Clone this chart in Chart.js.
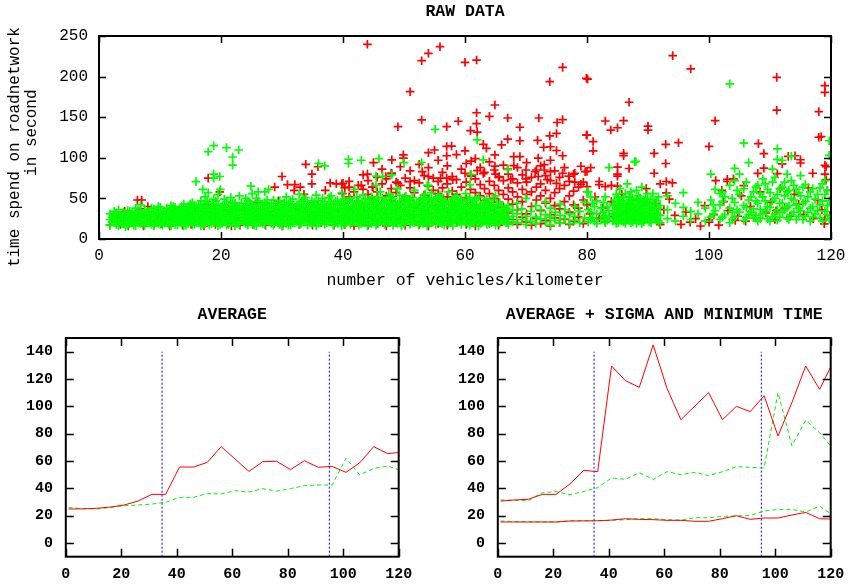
<!DOCTYPE html>
<html><head><meta charset="utf-8">
<script src="https://cdn.jsdelivr.net/npm/chart.js@4.4.0/dist/chart.umd.min.js"></script>
<style>
html,body{margin:0;padding:0;background:#fff;}
#wrap{position:relative;width:855px;height:585px;overflow:hidden;background:#fff;}
canvas{position:absolute;}
</style></head><body>
<div id="wrap">
<canvas id="cTop" width="855" height="295" style="left:0;top:0;width:855px;height:295px"></canvas>
<canvas id="cLeft" width="430" height="290" style="left:0;top:295px;width:430px;height:290px"></canvas>
<canvas id="cRight" width="425" height="290" style="left:430px;top:295px;width:425px;height:290px"></canvas>
</div>
<script>
// ---------- RAW DATA ----------
// green: [x, [y values at that x]]
const greenColumns = [
[1.8,[17,24,31]],[2.5,[20,28,34]],[3.2,[16,23,30,36]],[4,[19,26,33]],[4.7,[17,22,29,35]],[5.4,[20,27,32]],
[6,[16,24,30,38]],[6.8,[19,26,33,42]],[7.5,[17,22,29,36]],[8.2,[20,27,34]],[9,[16,23,30,37]],[9.7,[19,25,32,40]],
[10.4,[17,22,28,35]],[11.1,[20,26,31,38]],[11.8,[16,23,29,36,41]],[12.5,[18,25,33,39]],[13.2,[21,27,31,37]],
[13.9,[16,24,30,35,43]],[14.6,[19,26,33,40]],[15.3,[17,22,28,36,45]],[16,[20,27,32,39]],[16.7,[16,24,30,37,47]],
[17.4,[19,25,33,41,52]],[18.1,[17,22,29,35,44]],[18.8,[20,27,31,38,49]],[19.5,[16,24,30,36,43,55]],[20.2,[19,26,33,40]],
[20.9,[17,23,28,35,46]],[21.6,[20,25,32,39,51]],[22.3,[16,24,30,37,44]],[23,[18,27,34,41,53]],[23.7,[21,26,31,38]],
[24.4,[17,24,29,36,47]],[25.1,[19,27,33,42,56]],[25.8,[16,22,30,37,50]],[26.5,[20,26,32,40]],[27.2,[18,24,29,35,45,58]],
[27.9,[21,27,34,41]],[28.6,[17,23,30,38,48]],[29.3,[20,26,32,36,44]],[30,[16,24,29,35,42]],[30.7,[19,27,33,40,52]],
[31.4,[17,22,30,37,46]],[32.1,[20,26,32,39]],[32.8,[18,24,29,35,43,55]],[33.5,[21,27,34,41,49]],[34.2,[17,23,30,36,44]],
[34.9,[19,26,31,38,47]],[35.6,[16,24,29,35,42,54]],[36.3,[20,27,33,40]],[37,[18,23,30,37,46]],[37.7,[21,26,32,39,51]],
[38.4,[17,24,28,35,43]],[39.1,[19,27,33,41,48]],[39.8,[16,22,30,38,45,57]],[40.5,[20,26,32,36,44]],[41.2,[18,24,29,37,50]],
[41.9,[21,27,34,42,61]],[42.6,[17,23,31,39,47]],[43.3,[20,26,33,40,54]],[44,[16,25,30,36,45]],[44.7,[19,28,35,43,52]],
[45.4,[17,23,31,38,48,66]],[46.1,[21,26,33,41,58]],[46.8,[18,24,30,37,46]],[47.5,[20,28,35,44,55]],[48.2,[17,23,31,39,50]],
[48.9,[19,27,34,42,62]],[49.6,[16,25,30,38,47]],[50.3,[21,28,36,45,53]],[51,[18,24,32,40,49]],[51.7,[20,27,35,43,60]],
[52.4,[17,23,30,38,46]],[53.1,[19,26,34,41,51]],[53.8,[16,25,31,39,48,66]],[54.5,[21,28,36,44,57]],[55.2,[18,24,33,40,50]],
[55.9,[20,27,35,42,54]],[56.6,[17,23,30,38,47]],[57.3,[19,26,34,43,58]],[58,[16,25,32,39,49]],[58.7,[21,28,36,44,53]],
[59.4,[18,24,31,40,48]],[60.1,[20,27,35,43,56]],[60.8,[17,23,30,38,51,67]],[61.5,[19,26,33,41,47]],[62.2,[16,25,32,39,52]],
[62.9,[21,28,36,44]],[63.6,[18,24,31,40,49]],[64.3,[20,27,34,42]],[65,[17,23,30,38,53]],[65.7,[19,26,33,45]],
[66.4,[22,29,37]],[67.1,[18,25,34,41]],[67.8,[21,28,36]],[68.5,[20,31,44]],[69.3,[24,37]],[70,[18,28,50]],
[70.8,[22,34]],[71.6,[19,27,41]],[72.4,[25,36]],[73.2,[21,30,46]],[74,[17,27,38]],[74.8,[23,33]],[75.6,[20,29,43]],
[76.4,[25,36]],[77.2,[19,31]],[78,[23,28,40]],[78.8,[20,34]],[79.6,[26,45]],[80.2,[21,36,58]],[80.9,[26,44]],
[81.6,[19,31,47]],[82.3,[24,38]],[83,[20,29,52]],[83.6,[26,35,88]],[84.2,[22,31,43]],[84.8,[19,27,37,55]],
[85.4,[24,33,46,62]],[86,[21,29,40,51]],[86.6,[26,35,44,68]],[87.2,[20,31,38,48,58]],[87.8,[24,28,36,43,95]],
[88.4,[22,33,41,53]],[89,[19,27,37,46,64]],[89.6,[25,31,42,50]],[90.2,[21,34,45]],[90.8,[27,38,56]],[91.4,[23,32,47]],
[92,[20,29,41]],[93.2,[25,36,53]],[94.5,[22,44]],[95.8,[28,39,57]],[97,[24,34]],[98.2,[31,45]],[99.4,[22,38]],
[100.3,[27,48,80]],[101,[35,61]],[101.8,[24,42,56]],[102.6,[30,52]],[103.4,[20,38,66]],[104.2,[27,45,72,87]],
[105,[33,55,80]],[105.7,[23,41,62,118]],[106.5,[30,48,94]],[107.3,[26,37,58]],[108,[22,44,66]],[108.8,[31,52,74]],
[109.6,[25,40,61]],[110.4,[28,47,70,86]],[111.2,[23,36,55,98,111]],[112,[33,44,64,97]],[112.8,[26,39,58,80]],
[113.5,[30,50,72,102]],[114.3,[24,42,61]],[115,[35,53,78]],[115.8,[28,46,67]],[116.6,[22,38,58]],[117.4,[31,49]],
[118.2,[26,42,63]],[119,[34,55,72]],[119.7,[24,47,103,121]]
];
// extra green points filling the dense regions
const greenFillColumns = [
[2.15,[21,27]],[2.85,[18,25,32]],[3.6,[21,28]],[4.35,[15,24,30]],[5.05,[19,25,34]],[5.7,[17,23,29]],[6.4,[21,28,35]],
[7.15,[18,25,31]],[7.85,[20,26,33]],[8.6,[18,24,30,38]],[9.35,[21,28,34]],[10.05,[18,25,31,39]],[10.75,[20,26,33]],
[11.45,[18,24,30,34]],[12.15,[21,27,32,40]],[12.85,[17,23,29,35]],[13.55,[19,25,33,40]],[14.25,[17,22,28,37]],
[14.95,[21,25,31,38,43]],[15.65,[18,24,30,34,41]],[16.35,[22,26,35,42]],[17.05,[18,21,28,34,40]],[17.75,[22,27,31,38,46]],
[18.45,[19,25,33,40]],[19.15,[22,28,34,41,47]],[19.85,[18,21,27,32,38]],[20.55,[23,30,36,42,49]],[21.25,[18,22,28,34,41]],
[21.95,[21,27,33,36,45]],[22.65,[19,22,28,34,40]],[23.35,[23,30,36,44]],[24.05,[19,22,28,34,41,50]],[24.75,[22,25,31,38,44]],
[25.45,[17,24,29,35,40]],[26.15,[22,28,34,43,47]],[26.85,[19,22,28,37,42]],[27.55,[23,26,32,38,48]],[28.25,[19,25,28,35,44]],
[28.95,[22,28,34,41]],[29.65,[18,23,30,38,47]],[30.35,[21,27,32,38,45]],[31.05,[17,23,29,35,43]],[31.75,[20,25,33,41,49]],
[32.45,[22,29,35,42]],[33.15,[19,26,32,38,46]],[33.85,[23,27,33,39,51]],[34.55,[20,26,34,41]],[35.25,[22,28,33,40,45]],
[35.95,[19,26,31,38,47]],[36.65,[22,29,36,43,50]],[37.35,[20,27,33,41]],[38.05,[23,29,37,44,53]],[38.75,[20,26,30,37,46]],
[39.45,[23,29,36,44]],[40.15,[18,24,29,35,41,49]],[40.85,[22,28,34,40,47]],[41.55,[20,26,31,38,45]],[42.25,[23,29,36,44,52]],
[42.95,[19,25,30,37,43]],[43.65,[22,29,35,42,49]],[44.35,[19,27,33,39,48]],[45.05,[22,26,32,40,46]],[45.75,[19,28,35,43,51]],
[46.45,[23,29,36,44,50]],[47.15,[20,26,32,39,48]],[47.85,[23,30,37,42,52]],[48.55,[20,26,33,36,45]],[49.25,[22,29,36,44,54]],
[49.95,[19,23,33,41,50]],[50.65,[24,31,39,47]],[51.35,[21,27,34,42,51]],[52.05,[23,29,37,45]],[52.75,[20,27,33,41,49]],
[53.45,[22,29,37,44,55]],[54.15,[19,27,33,42,50]],[54.85,[23,31,39,47]],[55.55,[21,29,37,44,52]],[56.25,[19,25,33,41,49]],
[56.95,[22,28,36,45]],[57.65,[20,28,31,38,46]],[58.35,[23,29,36,42,51]],[59.05,[21,27,33,38,45]],[59.75,[23,30,37,46]],
[60.45,[19,25,33,40,48]],[61.15,[21,29,36,44]],[61.85,[23,28,35,43,50]],[62.55,[19,25,33,41]],[63.25,[22,26,33,38,46]],
[63.95,[20,28,37,45]],[64.65,[22,25,31,39,48]],[65.35,[20,28,35,42]],[66.05,[24,31,40]],[66.75,[20,27,38]],
[80.6,[24,33,52]],[81.2,[22,40]],[82.7,[27,33,45]],[83.3,[23,40]],
[84.5,[23,30,41,48]],[85.1,[20,28,36,44,52]],[85.7,[22,31,39,47]],[86.3,[19,25,33,42,56]],[86.9,[23,28,36,45,52]],
[87.5,[21,26,34,41,50]],[88.1,[19,25,30,39,47,60]],[88.7,[23,29,35,44,50]],[89.3,[21,26,33,40,48]],[89.9,[24,29,37,44,56]],
[90.5,[20,27,31,40,49]],[91.1,[25,35,43]],[91.7,[22,30,38,52]],
[100.7,[31,42]],[102.2,[27,46,58]],[103.8,[24,33,50]],[104.6,[36,60]],[106.1,[26,39,70]],[106.9,[33,52]],[107.7,[29,47,64]],
[108.4,[25,36,56]],[109.2,[34,47,68]],[110,[22,39,57]],[110.8,[31,50,76]],[111.6,[27,44,62]],[112.4,[36,53,70]],
[113.1,[24,41,60]],[113.9,[33,48,66]],[114.7,[28,38,57]],[115.4,[24,44,64]],[116.2,[33,52]],[117,[27,40,62]],
[117.8,[35,55]],[118.6,[22,47,68]],[119.4,[30,41,60]]
];
const greenOutliers = [[17.9,107.5],[18.8,114.9],[20.9,112.5],[22.9,109.6],[21.9,101],[21.9,91],[15.9,70.6],[18.8,80],
[19.8,77],[18.8,75],[17,61],[17.9,57],[19.9,61],[36,93],[37,90],[24.9,65],[26.1,58],[27.8,61],[55.1,135.1],[62,122],
[63,97.4],[40.9,98.2],[40.9,93],[43,97],[45.9,99],[50,94],[52.9,94.2],[46.5,77],[48,79],[67,85.5],[45.4,77.6],[61,79.6],
[54,66],[103.4,191],[88,95.5],[80,58]];

const redLow = [[1.8,17],[2.5,30],[3,26],[3.5,18],[4.2,34],[4.8,16],[5.5,28],[6,22],[6.3,48],[6.8,37],[7.3,16],[8,40],
[8.5,24],[9,17],[9.6,31],[10.3,19],[11,27],[11.6,16],[12.3,35],[13,21],[13.7,17],[14.4,29],[15.1,18],[15.8,38],[16.5,22],
[17.2,16],[17.8,43],[18.4,27],[19.1,18],[19.8,58],[20.4,33],[21,19],[21.7,16],[22.4,26],[23.1,17],[23.8,37],[24.5,21],
[25.2,18],[25.9,45],[26.6,24],[27.3,17],[28,30],[28.7,19],[29.4,47],[30.1,16],[30.8,27],[31.5,21],[32.2,36],[32.9,18],
[33.6,55],[34.3,24],[35,17],[35.7,39],[36.4,20],[37.1,60],[37.8,26],[38.5,17],[39.2,33],[39.9,56],
[33.9,92],[34.9,80],[35.9,89],[17.9,75],[30,77],[28.8,64],[30.9,67],[32.1,67],[33,64],[32,60],[34.9,68],[37.9,69],
[38.9,68],[39.8,68],[7,48]];
const redColumns = [
[40.3,[18,45,63]],[41,[24,52,71]],[41.8,[16,36,58]],[42.5,[29,47,66]],[43.3,[21,41,61,79]],[44.1,[17,33,55,72]],
[44.8,[26,49,64]],[45.6,[19,38,58,76]],[46.4,[23,44,68,86]],[47.1,[16,31,53,74]],[47.9,[27,47,62,81]],[48.7,[20,37,57,70]],
[49.4,[24,43,66,89]],[50.2,[17,34,52,75]],[51,[29,48,63,84]],[51.7,[21,39,57,72]],[52.5,[18,45,69,92]],[53.3,[25,35,54,78]],
[54,[16,30,50,65,88]],[54.8,[22,41,60,75]],[55.6,[19,36,56,71,97]],[56.3,[27,46,63,82]],[57.1,[17,33,52,68,90]],
[57.9,[23,42,59,77]],[58.6,[20,37,55,73,104]],[59.4,[26,48,64,86]],[60.2,[18,31,51,70,93]],[60.9,[24,44,61,79]],
[61.7,[16,38,57,74,99]],[62.5,[21,33,53,67,88]],[63.2,[28,47,62,82]],[64,[19,40,56,71,95]],[64.8,[23,35,50,66,85]],
[65.5,[17,45,60,76]],[66.3,[26,39,55,72,91]],[67.1,[20,32,49,63,80]],[67.8,[24,43,58,74]],[68.6,[18,36,52,69,88]],
[69.4,[27,46,61,79]],[70.1,[21,31,55,70,94]],[70.9,[17,40,58,76]],[71.7,[25,48,64,85]],[72.4,[19,35,53,68,90]],
[73.2,[23,44,60,78]],[74,[16,30,50,72,97]],[74.7,[26,41,57,84]],[75.5,[20,37,62,76]],[76.3,[24,46,66,88]],
[77.1,[18,33,53,71]],[77.8,[22,42,59,80]],[78.6,[27,38,64]],[79.4,[19,48,70]]
];
const redMidOutliers = [[44,239.8],[52.9,219.6],[54,228.7],[55.9,236.8],[51,181.4],[60,217.6],[61.9,220.4],[76,211.4],
[73.9,193.7],[79.9,197.9],[64.9,165],[61.9,155.5],[64,151],[52.9,146.6],[49,138.3],[57,138.3],[58.9,145],[61.9,142],
[67,149],[72.1,149],[69,137.6],[75.1,143.5],[76,147],[73.9,127],[75,130],[71.9,121.4],[79.9,128],[60.9,133.5],[62,131.6],
[67,123],[69,121],[57,114],[57.8,114.5],[63,116.5],[66,116],[60,108.6],[54,106.3],[55,109.6],[49.9,103.6],[49.9,99.6],
[48,97.4],[45,94],[57,102.5],[63.5,111.7],[64.9,103.5],[68,101.5],[69,101.5],[72.9,113],[74,113.6],[75,109],[76,102.5],
[72,99.6],[73,91.5],[53,83],[68,90.4],[79,89.6],[80,83.3],[64.9,89.8],[61,95.9],[61,77.4],[63,80.6],[65,80],[67,86],
[70,85],[71.5,83],[73,85],[74,83],[76,81],[77,77.4],[78,81],[44,80],[48,80.9],[47,77],[40,68.5],[41,64],[43,66],
[44.9,64],[49,68.5],[51,70.6],[54,77],[56,75],[57,75],[58,73],[60,81],[62,84.2],[65.6,77],[67.5,73],[70,74],[72,77],
[73.5,73],[75,68.5],[78,70],[79,67.4],[80,64.6]];
const redRight = [[80.1,197],[111.1,199],[94.05,225.8],[97,209.4],[119,188.8],[119,180.6],[118,156.9],[111.1,158.6],
[86.9,168.4],[101,145.7],[83,145.3],[83.9,134.2],[85,137],[86,145.7],[90,139.1],[90,134.2],[80,128],[81,120],[81,108.6],
[92.9,116.6],[95,118.6],[100,114],[118,125.3],[91,105.5],[86,105.5],[86,102.5],[92.9,93],[108.1,117.5],[109,105.1],
[113,101.8],[114.1,102.5],[115,97.6],[115,93.6],[112,92.4],[109,87.2],[111.2,80.4],[108,80.9],[119,90.8],[119,80],
[117,81],[79.7,83],[80.6,87.8],[85,88.6],[85,80],[85,77.4],[86.9,86.8],[91,81],[93,70.8],[82,70.8],[82,67],[83,64.6],
[84,66],[85,65],[92,67.8],[94,69],[93,56.8],[103,73.5],[103,70.8],[104,74],[101.1,72],[102.1,60],[105.7,65.7],[80,42],
[84,46],[82,26],[83,20.7],[92,17.6],[96.9,20.7],[100,23.5],[100,20.7],[104.3,22.8],[106,22],[111,34.8],[118.9,18.7],
[119,24],[120,24],[80.5,31],[81.3,52],[82.6,38],[84.4,28],[85.7,55],[86.5,35],[87.4,23],[88.2,48],[88.9,30],[89.7,62],
[90.5,26],[91.3,44],[91.9,20],[92.6,36],[93.5,49],[94.4,29],[95.4,18],[96.2,33],[97.8,25],[98.6,16],[99.3,41],[100.8,30],
[101.6,17],[102.4,46],[103.1,35],[104.7,28],[105.3,53],[106.8,40],[107.6,26],[108.4,58],[109.3,32],[110.1,45],[110.8,24],
[111.7,62],[112.4,38],[113.3,28],[114,55],[114.7,43],[115.5,30],[116.3,63],[117.1,25],[117.8,48],[118.5,36],[119.4,60],
[119.8,29],[120,42],[119.2,89],[119.2,73],[118.4,126]];

// ---------- AVERAGE / SIGMA / MINIMUM ----------
const binCenters = [1,6,11,16,21,26,31,36,41,46,51,56,61,66,71,76,81,86,91,96,101,106,111,116,121];
const avgRed   = [24.9,25.0,25.4,26.3,27.8,30.7,35.6,35.6,55.6,55.6,59.0,70.5,61.5,52.4,59.5,59.8,53.7,60.2,55.4,56.1,51.7,58.8,70.5,65.4,66.5];
const avgGreen = [25.9,25.2,24.9,26.0,27.3,27.8,28.5,29.8,33.4,33.4,36.3,35.9,38.3,37.3,39.8,38.0,39.8,42.0,42.4,42.4,62.0,49.8,54.6,56.3,53.0];
const sigmaRed   = [30.7,31.5,32.0,35.6,35.6,43.2,53.2,52.2,129.5,118.8,113.9,144.9,113.2,90.2,100.2,110.0,90.2,100.0,96.1,107.8,78.3,102.7,129.5,112.4,133];
const sigmaGreen = [31.5,31.2,31.0,36.8,37.6,35.4,37.8,40.5,47.6,46.6,51.5,46.6,52.2,50.0,51.7,49.3,52.2,55.9,55.4,54.9,110.2,71.2,89.8,80.7,68.5];
const minRed   = [15.4,15.4,15.4,15.4,15.4,16.1,16.2,16.3,16.8,17.8,17.3,17.1,16.6,16.6,15.9,15.9,17.8,20.0,17.3,18.3,18.3,20.5,22.4,17.8,17.5];
const minGreen = [16.1,15.8,15.6,15.4,15.4,16.3,16.3,16.3,16.6,17.1,17.8,17.8,17.1,16.8,18.5,18.5,19.5,19.8,20.2,23.4,24.6,24.6,22.7,27.0,20.0];
const markerX = [34.7, 95];
const yTicksBottom = [0,20,40,60,80,100,120,140];

// ---------- helpers ----------
const MONO = "'Liberation Mono','Courier New',monospace";
function flattenCols(cols){const out=[];cols.forEach(c=>c[1].forEach(y=>out.push({x:c[0],y:y})));return out;}
function pairs(arr){return arr.map(p=>({x:p[0],y:p[1]}));}
function series(ys){return binCenters.map((x,i)=>({x:x,y:ys[i]}));}

const framePlugin = {
  id:'frame',
  afterDatasetsDraw(chart, args, opts){
    const {ctx, chartArea:a, scales} = chart;
    ctx.save();
    ctx.strokeStyle='#000';
    ctx.lineWidth=opts.tickWidth;
    const L=opts.tickLen;
    ctx.beginPath();
    scales.x.ticks.forEach(t=>{
      const p=Math.round(scales.x.getPixelForValue(t.value))+0.5;
      ctx.moveTo(p,a.bottom); ctx.lineTo(p,a.bottom-L);
      ctx.moveTo(p,a.top); ctx.lineTo(p,a.top+L);
    });
    scales.y.ticks.forEach(t=>{
      const p=Math.round(scales.y.getPixelForValue(t.value))+0.5;
      ctx.moveTo(a.left,p); ctx.lineTo(a.left+L,p);
      ctx.moveTo(a.right,p); ctx.lineTo(a.right-L,p);
    });
    ctx.stroke();
    ctx.lineWidth=opts.borderWidth;
    ctx.strokeRect(a.left,a.top,a.right-a.left,a.bottom-a.top);
    ctx.restore();
  }
};

// a top axis that only carries the panel title (centred over the plot area)
function titleAxis(text, height, padTop){
  return {type:'linear',position:'top',min:0,max:120,display:true,
    ticks:{display:false}, grid:{display:false,drawTicks:false}, border:{display:false},
    title:{display:true,text:text,color:'#000',font:{family:MONO,size:16.5,weight:'bold',lineHeight:1.2},padding:{top:padTop,bottom:0}},
    afterFit:s=>{s.height=height;}};
}

// ---------- top: RAW DATA ----------
new Chart(document.getElementById('cTop'), {
  type:'scatter',
  data:{datasets:[
    {label:'green', data: flattenCols(greenColumns).concat(flattenCols(greenFillColumns), pairs(greenOutliers)),
     pointStyle:'cross', pointRadius:4.3, borderColor:'#00ff00', backgroundColor:'#00ff00', borderWidth:1.7},
    {label:'red', data: pairs(redLow).concat(flattenCols(redColumns), pairs(redMidOutliers), pairs(redRight)),
     pointStyle:'cross', pointRadius:4.3, borderColor:'#ff0000', backgroundColor:'#ff0000', borderWidth:1.7}
  ]},
  options:{
    responsive:false, animation:false, events:[],
    layout:{padding:{left:0,right:24,top:0,bottom:0}},
    plugins:{
      legend:{display:false}, tooltip:{enabled:false}, title:{display:false},
      frame:{tickLen:7,tickWidth:1.5,borderWidth:2}
    },
    scales:{
      x:{type:'linear',min:0,max:120,
         ticks:{stepSize:20,color:'#000',font:{family:MONO,size:16},padding:7.4,maxRotation:0,autoSkip:false},
         grid:{display:false,drawTicks:false}, border:{display:false},
         title:{display:true,text:'number of vehicles/kilometer',color:'#000',font:{family:MONO,size:16.5,lineHeight:1},padding:{top:0,bottom:6}},
         afterFit:s=>{s.height=56;}},
      xTitle: titleAxis('RAW DATA', 36, 2.1),
      y:{type:'linear',min:0,max:250,
         ticks:{stepSize:50,color:'#000',font:{family:MONO,size:16},padding:11},
         grid:{display:false,drawTicks:false}, border:{display:false},
         title:{display:true,text:['time spend on roadnetwork  ',' in second'],color:'#000',font:{family:MONO,size:16,lineHeight:1.05},padding:{top:6.5,bottom:0}},
         afterFit:s=>{s.width=99;}}
    }
  },
  plugins:[framePlugin]
});

// ---------- bottom charts ----------
function markerSets(){
  return markerX.map(m=>({label:'m', data:[{x:m,y:-10},{x:m,y:140}], showLine:true, pointRadius:0,
    borderColor:'#0000ff', borderWidth:1, borderDash:[2,2], clip:0}));
}
function lineSet(ys,color,dashed){
  return {data:series(ys), showLine:true, pointRadius:0, borderColor:color, borderWidth:1,
    borderDash: dashed?[4,3]:[], tension:0, clip:0};
}
function bottomOptions(titleText, yWidth, padRight){
  return {
    responsive:false, animation:false, events:[],
    layout:{padding:{left:0,right:padRight,top:0,bottom:0}},
    plugins:{
      legend:{display:false}, tooltip:{enabled:false}, title:{display:false},
      frame:{tickLen:8,tickWidth:1.5,borderWidth:2}
    },
    scales:{
      x:{type:'linear',min:0,max:120,
         ticks:{stepSize:20,color:'#000',font:{family:MONO,size:15,weight:'bold'},padding:8.3,maxRotation:0,autoSkip:false},
         grid:{display:false,drawTicks:false}, border:{display:false},
         afterFit:s=>{s.height=28.3;}},
      xTitle: titleAxis(titleText, 43, 9.6),
      y:{type:'linear',min:-10,max:150,
         afterBuildTicks:ax=>{ax.ticks=yTicksBottom.map(v=>({value:v}));},
         ticks:{color:'#000',font:{family:MONO,size:15,weight:'bold'},padding:12.8},
         grid:{display:false,drawTicks:false}, border:{display:false},
         afterFit:s=>{s.width=yWidth;}}
    }
  };
}

new Chart(document.getElementById('cLeft'), {
  type:'scatter',
  data:{datasets:[
    lineSet(avgRed,'#ff0000',false),
    lineSet(avgGreen,'#00ee00',true),
    ...markerSets()
  ]},
  options: bottomOptions('AVERAGE', 65.8, 31.3),
  plugins:[framePlugin]
});

new Chart(document.getElementById('cRight'), {
  type:'scatter',
  data:{datasets:[
    lineSet(sigmaRed,'#ff0000',false),
    lineSet(minRed,'#ff0000',false),
    lineSet(sigmaGreen,'#00ee00',true),
    lineSet(minGreen,'#00ee00',true),
    ...markerSets()
  ]},
  options: bottomOptions('AVERAGE + SIGMA AND MINIMUM TIME', 67.8, 24.3),
  plugins:[framePlugin]
});
</script>
</body></html>
